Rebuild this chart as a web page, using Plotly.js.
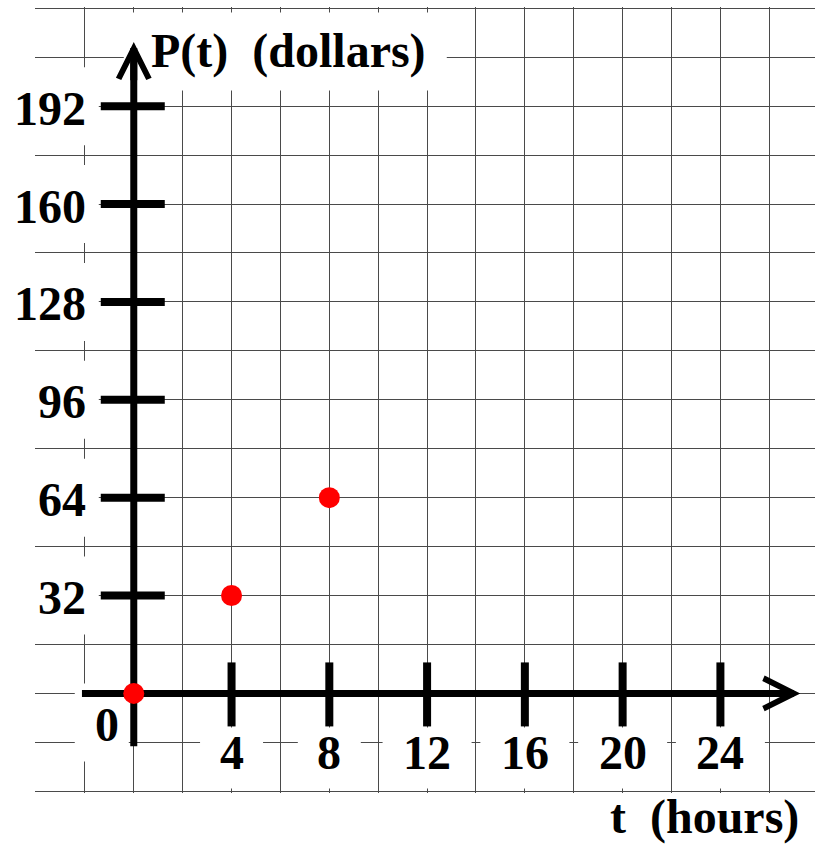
<!DOCTYPE html>
<html><head><meta charset="utf-8">
<script src="https://cdn.plot.ly/plotly-3.0.1.min.js"></script>
<style>html,body{margin:0;padding:0;background:#fff;}</style>
</head><body><div id="chart" style="width:815px;height:845px;"></div>
<script>
// ---- data ----
const tHours = [0, 4, 8];
const pDollars = [0, 32, 64];
const xTickVals = [4, 8, 12, 16, 20, 24];
const xTickText = ['4', '8', '12', '16', '20', '24'];
const yTickVals = [32, 64, 96, 128, 160, 192];
const yTickText = ['32', '64', '96', '128', '160', '192'];
const xTitle = 't\u00A0 (hours)';
const yTitle = 'P(t)\u00A0 (dollars)';
const originLabel = '0';

const FONT = {family: 'Liberation Serif, "Times New Roman", serif', size: 48, color: '#000'};
const TXT = s => '<b>' + s + '</b>';

const shapes = [];
const white = {fillcolor: '#ffffff', line: {width: 0}, layer: 'between'};
// white label boxes (mask the grid behind labels)
xTickVals.forEach((v, i) => {
  const w = xTickText[i].length > 1 ? 44.5 : 31.5;
  shapes.push(Object.assign({type: 'rect', xref: 'x', yref: 'y', xsizemode: 'pixel', ysizemode: 'pixel',
    xanchor: v, yanchor: 0, x0: -w, x1: w, y0: -34, y1: -95}, white));
});
yTickVals.forEach(v => {
  shapes.push(Object.assign({type: 'rect', xref: 'x', yref: 'y', xsizemode: 'pixel', ysizemode: 'pixel',
    xanchor: 0, yanchor: v, x0: -108, x1: -35, y0: -39, y1: 39}, white));
});
shapes.push(Object.assign({type: 'rect', xref: 'x', yref: 'y', xsizemode: 'pixel', ysizemode: 'pixel',
  xanchor: 0, yanchor: 0, x0: -59, x1: -5, y0: 10, y1: -68}, white));
shapes.push(Object.assign({type: 'rect', xref: 'x', yref: 'y', xsizemode: 'pixel', ysizemode: 'pixel',
  xanchor: 0, yanchor: 0, x0: -10, x1: 313, y0: 603, y1: 681}, white));

// tick marks crossing the axes
xTickVals.forEach(v => {
  shapes.push({type: 'line', layer: 'between', xref: 'x', yref: 'y', ysizemode: 'pixel', yanchor: 0,
    x0: v, x1: v, y0: -33, y1: 31, line: {color: '#000', width: 8}});
});
yTickVals.forEach(v => {
  shapes.push({type: 'line', layer: 'between', xref: 'x', yref: 'y', xsizemode: 'pixel', xanchor: 0,
    x0: -33, x1: 31, y0: v, y1: v, line: {color: '#000', width: 8}});
});
// axis lines
shapes.push({type: 'line', layer: 'between', xref: 'x', yref: 'y', x0: -2.12, x1: 27.0, y0: 0, y1: 0,
  line: {color: '#000', width: 7}});
shapes.push({type: 'line', layer: 'between', xref: 'x', yref: 'y', x0: 0, x1: 0, y0: -17.3, y1: 211,
  line: {color: '#000', width: 7}});

const annotations = [];
yTickVals.forEach((v, i) => annotations.push({x: 0, y: v, xref: 'x', yref: 'y', text: TXT(yTickText[i]),
  showarrow: false, xanchor: 'right', yanchor: 'middle', xshift: -46, yshift: -2, font: FONT}));
xTickVals.forEach((v, i) => annotations.push({x: v, y: 0, xref: 'x', yref: 'y', text: TXT(xTickText[i]),
  showarrow: false, xanchor: 'center', yanchor: 'middle', yshift: -59, font: FONT}));
annotations.push({x: 0, y: 0, xref: 'x', yref: 'y', text: TXT(originLabel), showarrow: false,
  xanchor: 'center', yanchor: 'middle', xshift: -27, yshift: -31, font: FONT});
annotations.push({x: 0, y: 210, xref: 'x', yref: 'y', text: TXT(yTitle), showarrow: false,
  xanchor: 'left', yanchor: 'middle', xshift: 15, font: FONT});
annotations.push({x: 27.3, y: -0.031, xref: 'x', yref: 'paper', text: TXT(xTitle), showarrow: false,
  xanchor: 'right', yanchor: 'middle', font: FONT});
// arrow heads
annotations.push({x: 27.27, y: 0, ax: 25.8, ay: 0, xref: 'x', yref: 'y', axref: 'x', ayref: 'y', text: '',
  showarrow: true, arrowhead: 5, arrowsize: 0.85, arrowwidth: 7, arrowcolor: '#000'});
annotations.push({x: 0, y: 213, ax: 0, ay: 200, xref: 'x', yref: 'y', axref: 'x', ayref: 'y', text: '',
  showarrow: true, arrowhead: 5, arrowsize: 0.85, arrowwidth: 7, arrowcolor: '#000'});

const trace = {
  type: 'scatter', mode: 'markers', x: tHours, y: pDollars,
  marker: {size: 21, color: '#ff0000', line: {width: 0}},
  hoverinfo: 'skip', cliponaxis: false
};

const layout = {
  width: 815, height: 845,
  margin: {l: 35, r: 0, t: 7, b: 52, pad: 0},
  paper_bgcolor: '#ffffff', plot_bgcolor: '#ffffff',
  showlegend: false,
  xaxis: {range: [-4.041, 27.87], tick0: 0, dtick: 2, showgrid: true, gridcolor: '#4a4a4a', gridwidth: 1,
    zeroline: false, showticklabels: false, ticks: '', showline: false, fixedrange: true},
  yaxis: {range: [-32.56, 224.43], tick0: 0, dtick: 16, showgrid: true, gridcolor: '#4a4a4a', gridwidth: 1,
    zeroline: false, showticklabels: false, ticks: '', showline: false, fixedrange: true},
  shapes: shapes,
  annotations: annotations
};

Plotly.newPlot('chart', [trace], layout, {displayModeBar: false, staticPlot: true});
</script>
</body></html>
